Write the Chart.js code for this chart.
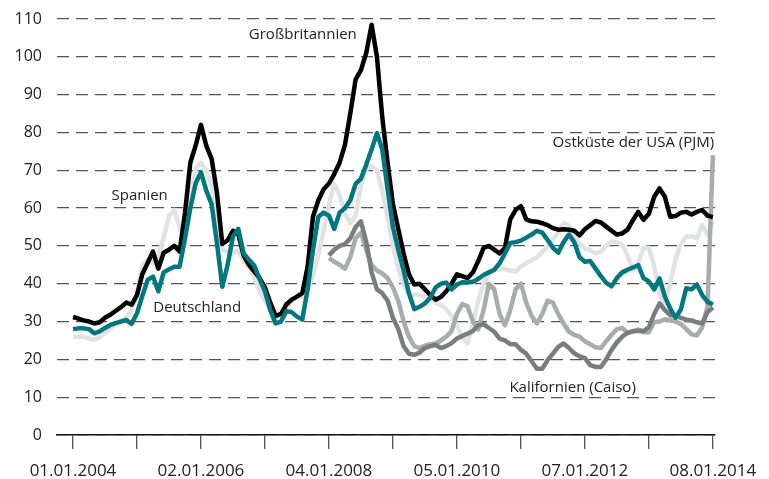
<!DOCTYPE html>
<html>
<head>
<meta charset="utf-8">
<script src="https://cdn.jsdelivr.net/npm/chart.js@4.4.1/dist/chart.umd.min.js"></script>
<style>
html,body{margin:0;padding:0;background:#ffffff;}
#wrap{width:769px;height:479px;}
</style>
</head>
<body>
<div id="wrap"><canvas id="c" width="769" height="479"></canvas></div>
<script>
// Monthly values, index 0 = January 2004 ... index 120 = January 2014
const firstYear = 2004;
const tickLabels = ['01.01.2004','','02.01.2006','','04.01.2008','','05.01.2010','','07.01.2012','','08.01.2014'];

const grossbritannien = [
31.2,30.8,30.3,30.0,29.5,29.8,31.0,31.8,32.8,33.8,35.0,34.5,
37.0,42.5,45.5,48.5,44.0,48.2,49.0,50.0,48.5,58.7,72.0,76.5,
82.0,76.5,73.0,64.0,50.5,51.5,54.0,53.0,47.5,45.0,43.2,41.5,
39.0,35.0,31.5,32.0,34.5,35.8,36.6,37.5,44.5,57.7,62.0,65.0,
66.5,69.0,72.0,76.7,85.0,94.0,96.5,101.0,108.5,100.0,84.0,72.0,
61.0,54.5,48.0,42.5,39.8,40.0,38.5,37.0,35.8,36.5,38.0,40.0,
42.5,42.0,41.5,43.0,46.0,49.5,50.0,49.0,48.0,49.5,57.0,59.5,
60.5,57.0,56.5,56.4,56.0,55.5,54.7,54.3,54.4,54.3,54.0,52.8,
54.4,55.5,56.6,56.2,55.1,54.0,53.0,53.3,54.3,56.8,59.0,56.9,
58.5,63.0,65.2,63.0,57.7,57.9,58.8,59.0,58.3,59.0,59.5,58.0,
57.6];

const deutschland = [
28.0,28.2,28.2,28.0,26.9,27.4,28.3,29.1,29.6,30.0,30.4,29.4,
32.2,36.8,41.0,41.9,38.0,43.0,43.8,44.5,44.5,52.0,60.0,66.5,
69.5,64.6,61.0,50.7,39.2,45.0,52.5,54.5,48.0,46.3,44.8,41.2,
37.9,33.0,29.5,30.0,32.7,32.5,31.3,30.5,38.5,48.9,57.7,58.8,
58.0,54.5,58.8,60.0,62.0,66.4,67.8,71.5,75.5,79.8,75.5,65.0,
55.0,49.0,43.5,37.5,33.3,33.9,34.8,36.3,39.0,40.0,40.3,38.5,
39.8,40.4,40.3,40.5,41.3,42.3,43.0,43.7,45.4,48.0,50.8,51.0,
51.4,52.2,53.0,54.0,53.5,51.6,49.5,48.2,51.0,53.0,51.0,47.0,
45.8,46.0,44.0,42.0,40.2,39.3,41.5,43.0,43.7,44.3,44.9,41.5,
40.6,38.5,41.4,36.6,33.5,31.0,33.2,38.8,38.5,39.8,37.0,35.2,
34.5];

const spanien = [
26.0,26.0,26.0,25.5,25.2,25.8,27.0,28.3,29.5,30.3,31.0,33.0,
37.5,45.0,46.3,45.4,47.5,52.0,58.0,59.5,55.0,50.0,62.0,70.5,
72.0,70.0,66.0,57.0,49.0,48.5,48.0,49.0,46.0,44.5,41.5,38.0,
35.5,33.0,31.0,31.5,33.8,35.3,36.6,36.6,38.5,42.0,47.5,54.0,
61.0,66.5,63.5,58.5,56.0,58.0,66.0,70.3,71.0,70.0,64.5,57.5,
50.0,44.0,39.7,37.3,37.0,37.0,36.6,36.2,35.0,34.3,33.3,31.5,
29.0,25.8,24.2,29.5,35.5,40.0,42.5,43.6,43.8,43.8,43.5,43.2,
44.5,45.4,46.2,47.0,48.3,50.0,51.6,53.6,56.0,55.3,52.5,50.7,
49.3,48.9,48.0,48.5,50.0,51.2,51.0,50.3,47.5,43.5,45.5,49.5,
49.5,44.5,37.0,34.5,40.0,46.5,50.5,52.5,52.5,52.0,55.5,53.0,
56.5];

// US series start in January 2008 (month index 48)
const usStartIndex = 48;
const ostkuestePJM = [
46.8,45.8,45.0,44.0,47.0,52.0,53.5,49.0,45.0,43.5,42.7,41.5,
39.0,35.5,30.0,26.0,23.5,23.0,23.6,24.0,24.2,25.0,26.0,27.5,
32.0,34.6,34.0,30.0,28.0,33.0,40.0,38.5,32.0,29.0,33.0,38.5,
40.0,35.0,31.5,29.5,32.0,35.5,35.0,32.0,29.5,27.3,26.5,26.0,
24.8,24.0,23.2,23.0,24.8,26.5,28.0,28.3,27.0,27.3,27.9,27.2,
27.2,29.8,30.0,30.6,30.4,30.0,29.4,28.0,26.6,26.3,28.5,34.0,
74.0];

const kalifornienCaiso = [
47.5,49.0,50.0,50.5,52.0,55.0,56.5,51.0,43.0,38.5,37.5,35.5,
31.0,28.0,23.5,21.5,21.2,21.8,23.0,23.5,23.8,23.0,23.5,24.3,
25.5,26.2,26.8,27.5,29.0,29.3,28.3,27.3,25.5,25.0,24.0,24.0,
22.5,21.5,19.5,17.5,17.5,19.8,21.5,23.3,24.2,23.0,21.6,20.8,
20.3,18.5,18.0,18.0,20.0,22.5,24.5,26.0,27.0,27.5,27.5,27.5,
28.5,32.0,34.8,33.0,31.7,31.5,31.0,30.5,30.3,29.8,29.5,32.5,
33.7];

const seriesLabels = [
  {text:'Großbritannien', month:43.1, value:105.8},
  {text:'Spanien', month:12.5, value:63.2},
  {text:'Deutschland', month:23.3, value:33.6},
  {text:'Ostküste der USA (PJM)', month:105.1, value:77.2},
  {text:'Kalifornien (Caiso)', month:93.7, value:12.4}
];

function toPoints(values, start){
  return values.map((v,i)=>({x:start+i, y:v}));
}

const FONT = '"Open Sans", "Noto Sans", sans-serif';

const labelPlugin = {
  id:'seriesLabels',
  afterDatasetsDraw(chart){
    const {ctx, scales:{x,y}} = chart;
    ctx.save();
    ctx.font = '15px ' + FONT;
    ctx.fillStyle = '#222222';
    ctx.textAlign = 'center';
    ctx.textBaseline = 'middle';
    seriesLabels.forEach(l=>{
      ctx.fillText(l.text, x.getPixelForValue(l.month), y.getPixelForValue(l.value));
    });
    ctx.restore();
  }
};

const lineStyle = {pointRadius:0, borderWidth:4.5, tension:0, borderJoinStyle:'round', fill:false};

new Chart(document.getElementById('c'), {
  type:'line',
  data:{
    datasets:[
      Object.assign({label:'Deutschland', data:toPoints(deutschland,0), borderColor:'#00787d'}, lineStyle),
      Object.assign({label:'Großbritannien', data:toPoints(grossbritannien,0), borderColor:'#000000'}, lineStyle),
      Object.assign({label:'Kalifornien (Caiso)', data:toPoints(kalifornienCaiso,usStartIndex), borderColor:'#7b7c7e'}, lineStyle),
      Object.assign({label:'Ostküste der USA (PJM)', data:toPoints(ostkuestePJM,usStartIndex), borderColor:'#aaabad'}, lineStyle),
      Object.assign({label:'Spanien', data:toPoints(spanien,0), borderColor:'#e1e2e3'}, lineStyle)
    ]
  },
  options:{
    responsive:false,
    animation:false,
    layout:{padding:{top:19, right:54, left:0, bottom:0}},
    plugins:{legend:{display:false}, tooltip:{enabled:false}},
    scales:{
      x:{
        type:'linear',
        min:-3,
        max:120.4,
        afterBuildTicks(scale){
          scale.ticks = tickLabels.map((t,i)=>({value:i*12}));
        },
        afterFit(scale){ scale.height = 44; },
        ticks:{
          autoSkip:false,
          maxRotation:0,
          padding:12,
          color:'#222222',
          font:{family:FONT, size:17},
          callback(value){ const i = Math.round(value/12); return tickLabels[i] || ''; }
        },
        grid:{drawOnChartArea:false, drawTicks:true, tickLength:14, color:'#555555', lineWidth:1.3},
        border:{display:true, color:'#111111', width:1.6}
      },
      y:{
        min:0,
        max:110,
        afterFit(scale){ scale.width = 57; scale.paddingTop = 8; scale.paddingBottom = 8; },
        ticks:{stepSize:10, padding:15, color:'#222222', font:{family:FONT, size:16}},
        grid:{drawTicks:false, color:'#555555', lineWidth:1.3},
        border:{display:false, dash:[12,7]}
      }
    }
  },
  plugins:[labelPlugin]
});
</script>
</body>
</html>
